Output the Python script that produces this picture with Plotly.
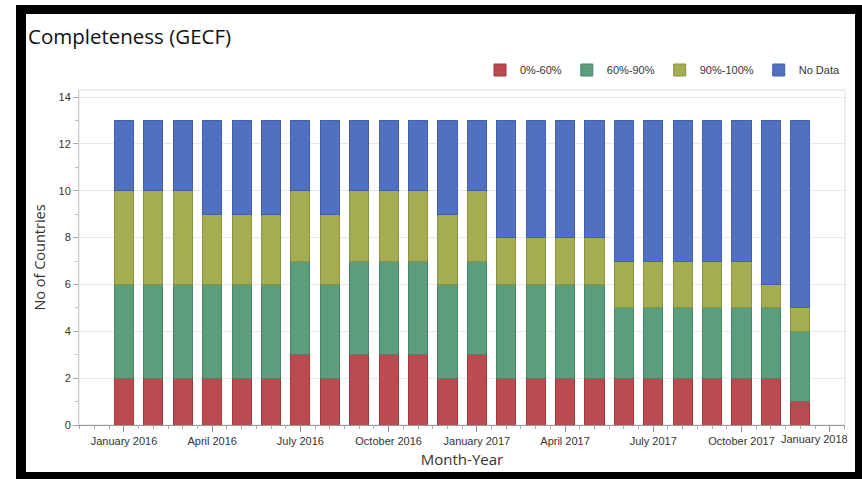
import plotly.graph_objects as go

months = ["Jan 2016", "Feb 2016", "Mar 2016", "Apr 2016", "May 2016", "Jun 2016",
          "Jul 2016", "Aug 2016", "Sep 2016", "Oct 2016", "Nov 2016", "Dec 2016",
          "Jan 2017", "Feb 2017", "Mar 2017", "Apr 2017", "May 2017", "Jun 2017",
          "Jul 2017", "Aug 2017", "Sep 2017", "Oct 2017", "Nov 2017", "Dec 2017"]
low_0_60 = [2, 2, 2, 2, 2, 2, 3, 2, 3, 3, 3, 2, 3, 2, 2, 2, 2, 2, 2, 2, 2, 2, 2, 1]
mid_60_90 = [4, 4, 4, 4, 4, 4, 4, 4, 4, 4, 4, 4, 4, 4, 4, 4, 4, 3, 3, 3, 3, 3, 3, 3]
high_90_100 = [4, 4, 4, 3, 3, 3, 3, 3, 3, 3, 3, 3, 3, 2, 2, 2, 2, 2, 2, 2, 2, 2, 1, 1]
no_data = [3, 3, 3, 4, 4, 4, 3, 4, 3, 3, 3, 4, 3, 5, 5, 5, 5, 6, 6, 6, 6, 6, 7, 8]
tick_positions = [0, 3, 6, 9, 12, 15, 18, 21, 24]
tick_labels = ["January 2016", "April 2016", "July 2016", "October 2016", "January 2017",
               "April 2017", "July 2017", "October 2017", "January 2018"]

x_idx = list(range(len(months)))

series = [
    ("0%-60%", low_0_60, "#BC4B51", "#9E3A40"),
    ("60%-90%", mid_60_90, "#5B9E7E", "#4A8467"),
    ("90%-100%", high_90_100, "#A5AD52", "#8A9140"),
    ("No Data", no_data, "#5170C2", "#4260AE"),
]

fig = go.Figure()
for name, vals, col, edge in series:
    fig.add_trace(go.Bar(
        x=x_idx, y=vals, name=name, width=0.65,
        marker=dict(color=col, line=dict(color=edge, width=1)),
        customdata=months,
        hovertemplate="%{customdata}<br>" + name + ": %{y}<extra></extra>",
    ))

W, H = 862, 479
ml, mr, mt, mb = 79, 17, 90, 54
pw, ph = W - ml - mr, H - mt - mb


def px(x):
    return (x - ml) / pw


def py(y):
    return (H - mb - y) / ph


frame = [
    (16, 5, 26, 479),
    (16, 5, 862, 14),
    (855, 5, 862, 479),
    (16, 472, 862, 479),
]
shapes = []
for x0, y0, x1, y1 in frame:
    shapes.append(dict(type="rect", xref="paper", yref="paper",
                       x0=px(x0), x1=px(x1), y0=py(y1), y1=py(y0),
                       fillcolor="black", line=dict(width=0), layer="above"))
shapes.append(dict(type="rect", xref="paper", yref="paper", x0=0, x1=1, y0=0, y1=1,
                   line=dict(color="#dddddd", width=1), layer="below"))

# the last label is drawn as an annotation, nudged left to stay inside the frame
shown_labels = tick_labels[:-1] + [""]

fig.update_layout(
    barmode="stack",
    width=W, height=H,
    margin=dict(l=ml, r=mr, t=mt, b=mb, autoexpand=False),
    paper_bgcolor="white",
    plot_bgcolor="white",
    font=dict(family="Liberation Sans", size=11, color="#333333"),
    title=dict(text="Completeness (GECF)", x=28 / W, xanchor="left",
               y=1 - 37 / H, yanchor="middle",
               font=dict(family="Open Sans", size=20.5, color="#111111")),
    legend=dict(orientation="h", x=1.0, xanchor="right", y=py(70), yanchor="middle",
                font=dict(family="Liberation Sans", size=11, color="#333333"),
                traceorder="normal", bgcolor="rgba(0,0,0,0)", itemwidth=30),
    shapes=shapes,
    annotations=[dict(text=tick_labels[-1], x=tick_positions[-1], xref="x",
                      y=0, yref="paper", yanchor="top", xanchor="center",
                      xshift=-15, yshift=-6, showarrow=False,
                      font=dict(family="Liberation Sans", size=11, color="#333333"))],
    showlegend=True,
)
fig.update_xaxes(
    range=[-1.53, 24.52], automargin=False,
    tickmode="array", tickvals=tick_positions, ticktext=shown_labels,
    ticks="outside", ticklen=6, tickcolor="#999999",
    minor=dict(tickmode="linear", tick0=0, dtick=0.5, ticks="outside", ticklen=3,
               tickcolor="#aaaaaa", showgrid=False),
    showline=True, linecolor="#999999", linewidth=1, mirror=False,
    showgrid=False, zeroline=False,
    title=dict(text="Month-Year", standoff=8,
               font=dict(family="Open Sans", size=15, color="#333333")),
)
fig.update_yaxes(
    range=[0, 14.3], automargin=False,
    tickmode="linear", tick0=0, dtick=2,
    ticks="outside", ticklen=5, tickcolor="#aaaaaa",
    minor=dict(tickmode="linear", tick0=0, dtick=1, ticks="outside", ticklen=3,
               tickcolor="#bbbbbb", showgrid=False),
    showline=True, linecolor="#cccccc", linewidth=1, mirror=False,
    showgrid=True, gridcolor="#e8e8e8", zeroline=False,
    title=dict(text="No of Countries", standoff=9,
               font=dict(family="Open Sans", size=14.5, color="#333333")),
)

fig.write_html("out.html", config={"displayModeBar": False},
               post_script="document.body.style.margin='0';document.body.style.padding='0';")
